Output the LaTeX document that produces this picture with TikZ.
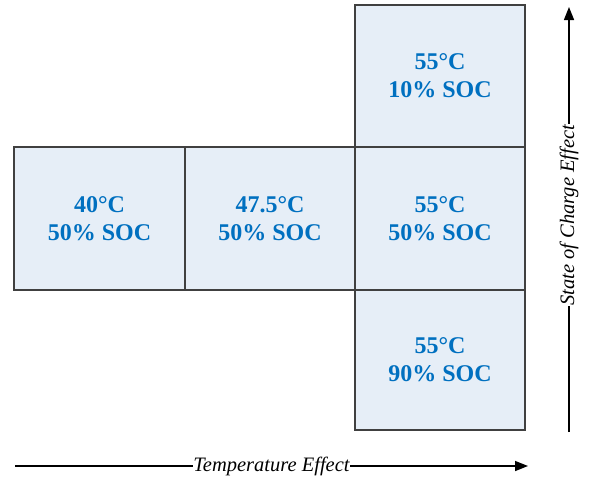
\documentclass[tikz,border=0pt]{standalone}
\usepackage{fontspec}
\setmainfont{Liberation Serif}
\usetikzlibrary{arrows.meta}

\definecolor{cellfill}{HTML}{E6EEF7}
\definecolor{cellline}{HTML}{404040}
\definecolor{celltext}{HTML}{0070C0}

\tikzset{
  cell/.style={line width=2pt,draw=cellline,fill=cellfill},
  celllabel/.style={align=center,text=celltext,
    font=\fontsize{24}{28}\selectfont\bfseries},
  effect/.style={line width=1.5pt,-{Triangle[length=13pt,width=10pt]}},
  effectlabel/.style={fill=white,inner sep=0.5pt,
    font=\fontsize{20.5}{24}\selectfont\itshape}
}

\begin{document}
\begin{tikzpicture}[x=1pt,y=-1pt]
    \useasboundingbox (0,0) rectangle (593,480);

    \draw[cell] (14,147) rectangle (185,290) node[midway,celllabel] (t40)
      {40°C\\50\% SOC};
    \draw[cell] (185,147) rectangle (355,290) node[midway,celllabel] (t475)
      {47.5°C\\50\% SOC};
    \draw[cell] (355,5) rectangle (525,147) node[midway,celllabel] (s10)
      {55°C\\10\% SOC};
    \draw[cell] (355,147) rectangle (525,290) node[midway,celllabel] (s50)
      {55°C\\50\% SOC};
    \draw[cell] (355,290) rectangle (525,430) node[midway,celllabel] (s90)
      {55°C\\90\% SOC};

    \coordinate (tstart) at (15,466);
    \coordinate (tend) at (528,466);
    \coordinate (sstart) at (569,432);
    \coordinate (send) at (569,7);

    \draw[effect] (tstart) -- (tend) node[midway,effectlabel] (tlabel)
      {Temperature Effect};
    \draw[effect] (sstart) -- (send) node[pos=0.51,sloped,effectlabel]
      (slabel) {State of Charge Effect};
  \end{tikzpicture}
\end{document}
